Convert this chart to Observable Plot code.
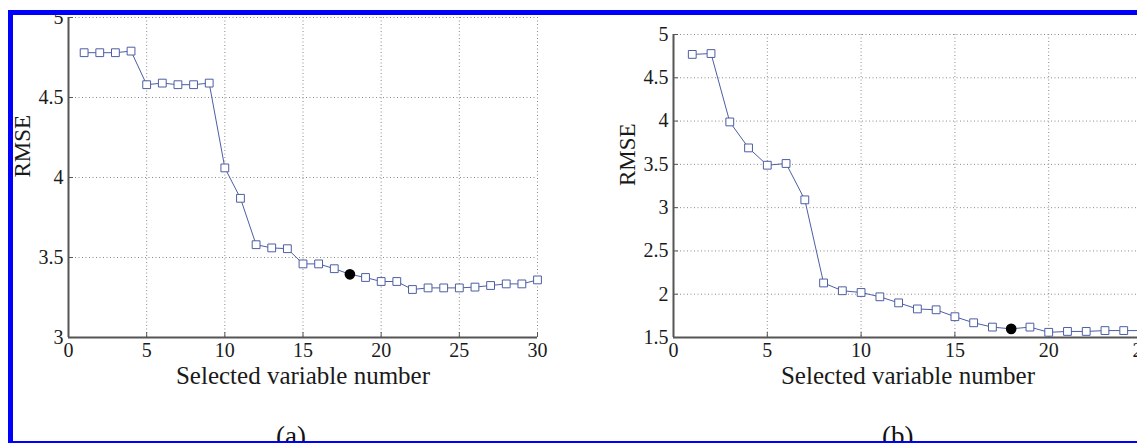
<!DOCTYPE html>
<html><head><meta charset="utf-8">
<script src="https://cdn.jsdelivr.net/npm/d3@7"></script>
<script src="https://cdn.jsdelivr.net/npm/@observablehq/plot@0.6"></script>
<style>
html,body{margin:0;padding:0;background:#fff;overflow:hidden;width:1137px;height:443px;}
#wrap{position:relative;width:1137px;height:443px;overflow:hidden;background:#fff;}
.panel{position:absolute;top:0;}
.panel svg{max-width:none !important;}
.cap{position:absolute;font-family:"Liberation Serif","Times New Roman",serif;font-size:27px;color:#111;line-height:1;}
#border{position:absolute;left:8px;top:10px;width:1300px;height:426px;border:5px solid #0000ff;box-sizing:content-box;pointer-events:none;}
</style></head><body>
<div id="wrap">
  <div id="pa" class="panel" style="left:0px;width:560px"></div>
  <div id="pb" class="panel" style="left:600px;width:580px"></div>
  <div class="cap" style="left:276px;top:423px">(a)</div>
  <div class="cap" style="left:882px;top:423px">(b)</div>
  <div id="border"></div>
</div>
<script>
// ---- data ----
const varNumA = [1,2,3,4,5,6,7,8,9,10,11,12,13,14,15,16,17,18,19,20,21,22,23,24,25,26,27,28,29,30];
const rmseA   = [4.78,4.78,4.78,4.79,4.58,4.59,4.58,4.58,4.59,4.06,3.87,3.58,3.56,3.555,3.46,3.46,3.43,3.395,3.375,3.35,3.35,3.30,3.31,3.31,3.31,3.315,3.325,3.335,3.335,3.36];
const selectedA = 18;

const varNumB = [1,2,3,4,5,6,7,8,9,10,11,12,13,14,15,16,17,18,19,20,21,22,23,24,25];
const rmseB   = [4.77,4.78,3.99,3.69,3.49,3.51,3.09,2.13,2.04,2.02,1.97,1.90,1.83,1.82,1.74,1.67,1.62,1.60,1.62,1.56,1.57,1.57,1.58,1.58,1.58];
const selectedB = 18;

const xTicksA = [0,5,10,15,20,25,30];
const yTicksA = [3,3.5,4,4.5,5];
const xTicksB = [0,5,10,15,20,25];
const yTicksB = [1.5,2,2.5,3,3.5,4,4.5,5];

const xLabel = "Selected variable number";
const yLabel = "RMSE";

const FONT = '"Liberation Serif","Times New Roman",serif';
const LINE = "#4d5ea3";
const AXIS = "#555";
const GRID = "#8a8a8a";
const INK = "#1a1a1a";

function panel({xs, ys, sel, xDomain, yDomain, xTicks, yTicks, width, height, ml, mr, mt, mb}) {
  const data = xs.map((x, i) => ({x, y: ys[i]}));
  const fmt = d => String(d);
  return Plot.plot({
    width, height,
    marginLeft: ml, marginRight: mr, marginTop: mt, marginBottom: mb,
    style: {fontFamily: FONT, fontSize: "21px", color: INK, background: "transparent", overflow: "visible", maxWidth: "none"},
    x: {domain: xDomain, ticks: xTicks},
    y: {domain: yDomain, ticks: yTicks},
    marks: [
      Plot.gridX(xTicks.filter(t => t > xDomain[0]), {stroke: GRID, strokeOpacity: 1, strokeDasharray: "1,2.5"}),
      Plot.gridY(yTicks.filter(t => t > yDomain[0]), {stroke: GRID, strokeOpacity: 1, strokeDasharray: "1,2.5"}),
      Plot.axisX(xTicks, {tickSize: -5, stroke: AXIS, label: null, tickFormat: () => ""}),
      Plot.axisY(yTicks, {tickSize: -5, stroke: AXIS, label: null, tickFormat: () => ""}),
      Plot.text(xTicks, {x: d => d, text: fmt, frameAnchor: "bottom", lineAnchor: "top", dy: 5, fontSize: 20, fontFamily: FONT, fill: INK}),
      Plot.text(yTicks, {y: d => d, text: fmt, frameAnchor: "left", textAnchor: "end", dx: -5, fontSize: 20, fontFamily: FONT, fill: INK}),
      Plot.ruleX([xDomain[0]], {stroke: AXIS, strokeWidth: 2}),
      Plot.ruleY([yDomain[0]], {stroke: AXIS, strokeWidth: 2}),
      Plot.line(data, {x: "x", y: "y", stroke: LINE, strokeWidth: 1}),
      Plot.dot(data.filter(d => d.x !== sel), {x: "x", y: "y", symbol: "square", r: 4.4, stroke: LINE, fill: "white", strokeWidth: 1}),
      Plot.dot(data.filter(d => d.x === sel), {x: "x", y: "y", r: 4.6, fill: "#000", stroke: "#000"}),
      Plot.text([xLabel], {text: d => d, frameAnchor: "bottom", dy: 46, fontSize: 25, fontFamily: FONT, fill: INK}),
      Plot.text([yLabel], {text: d => d, frameAnchor: "left", dx: -46, rotate: -90, fontSize: 23, fontFamily: FONT, fill: INK})
    ]
  });
}

document.getElementById("pa").appendChild(panel({
  xs: varNumA, ys: rmseA, sel: selectedA,
  xDomain: [0, 30], yDomain: [3, 5], xTicks: xTicksA, yTicks: yTicksA,
  width: 560, height: 400, ml: 68, mr: 23, mt: 17, mb: 63
}));
document.getElementById("pb").appendChild(panel({
  xs: varNumB, ys: rmseB, sel: selectedB,
  xDomain: [0, 25], yDomain: [1.5, 5], xTicks: xTicksB, yTicks: yTicksB,
  width: 580, height: 400, ml: 73, mr: 38, mt: 34, mb: 63
}));
</script>
</body></html>
